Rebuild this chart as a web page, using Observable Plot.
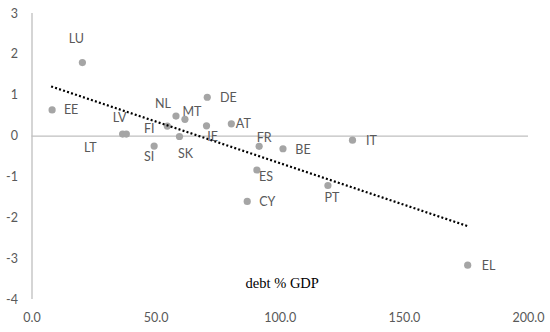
<!DOCTYPE html>
<html>
<head>
<meta charset="utf-8">
<script src="https://cdn.jsdelivr.net/npm/d3@7"></script>
<script src="https://cdn.jsdelivr.net/npm/@observablehq/plot@0.6"></script>
<style>
  html, body { margin: 0; padding: 0; background: #fff; }
  #chart svg { display: block; }
</style>
</head>
<body>
<div id="chart"></div>
<script>
// Data
const countries = ["LU","EE","LV","LT","FI","SI","SK","NL","MT","DE","IE","AT","FR","BE","IT","ES","CY","PT","EL"];
const debt      = [20.3, 8.1, 36.5, 38.0, 54.5, 49.2, 59.4, 58.0, 61.6, 70.6, 70.3, 80.3, 91.5, 101.1, 129.1, 90.6, 86.7, 119.2, 175.5];
const yValues   = [1.80, 0.64, 0.05, 0.05, 0.245, -0.245, -0.01, 0.49, 0.41, 0.95, 0.25, 0.30, -0.25, -0.31, -0.10, -0.83, -1.60, -1.21, -3.16];
const trendX    = [7.7, 175.8];
const trendY    = [1.215, -2.21];
const xTicks    = [0, 50, 100, 150, 200];
const yTicks    = [-4, -3, -2, -1, 0, 1, 2, 3];
const xTitle    = "debt % GDP";

// label placement (layout, pixels)
const labelOffsets = {
  LU: [-6, -24], EE: [19, 0], LV: [-3, -16], LT: [-36, 14], FI: [-18, 3],
  SI: [-5, 11], SK: [6, 18], NL: [-13, -12], MT: [7, -7], DE: [21, 1],
  IE: [6, 11], AT: [12, 0], FR: [5, -8], BE: [20, 1], IT: [19, 1],
  ES: [9, 7], CY: [20, 1], PT: [4, 12], EL: [21, 1]
};

const points = countries.map((c, i) => ({country: c, x: debt[i], y: yValues[i]}));
const trend = trendX.map((x, i) => ({x, y: trendY[i]}));

const labelFont = "Lato, 'Liberation Sans', sans-serif";
const grey = "#595959";

const chart = Plot.plot({
  width: 550,
  height: 332,
  marginLeft: 31.5,
  marginRight: 22,
  marginTop: 13,
  marginBottom: 33,
  style: {fontFamily: labelFont, fontSize: "12px", color: grey, background: "#fff"},
  x: {domain: [0, 200]},
  y: {domain: [-4, 3]},
  marks: [
    Plot.axisX({ticks: xTicks, tickSize: 0, tickPadding: 14, tickFormat: d3.format(".1f"), label: null, fill: grey, fontSize: 12.5}),
    Plot.axisY({ticks: yTicks, tickSize: 0, tickPadding: 14, tickFormat: d => `${d}`, label: null, fill: grey, fontSize: 12.5}),
    Plot.ruleX([0], {y1: -4, y2: 3, stroke: "#bfbfbf", strokeWidth: 1.3}),
    Plot.ruleY([0], {x1: 0, x2: 200, stroke: "#bfbfbf", strokeWidth: 1.3}),
    Plot.dot(points, {x: "x", y: "y", r: 3.6, fill: "#a5a5a5", stroke: null}),
    Plot.line(trend, {x: "x", y: "y", stroke: "#000", strokeWidth: 2.2, strokeDasharray: "2,2.2", strokeLinecap: "butt"}),
    ...points.map(p => Plot.text([p], {
      x: "x", y: "y", text: "country",
      dx: labelOffsets[p.country][0], dy: labelOffsets[p.country][1],
      textAnchor: "middle", lineAnchor: "middle",
      fill: grey, fontSize: 12.5, fontFamily: labelFont
    })),
    Plot.text([xTitle], {frameAnchor: "bottom", dx: 2, dy: -16, lineAnchor: "middle", textAnchor: "middle",
      fill: "#000", fontSize: 14.5, fontFamily: "'Liberation Serif', 'DejaVu Serif', serif"})
  ]
});
document.getElementById("chart").appendChild(chart);
</script>
</body>
</html>
